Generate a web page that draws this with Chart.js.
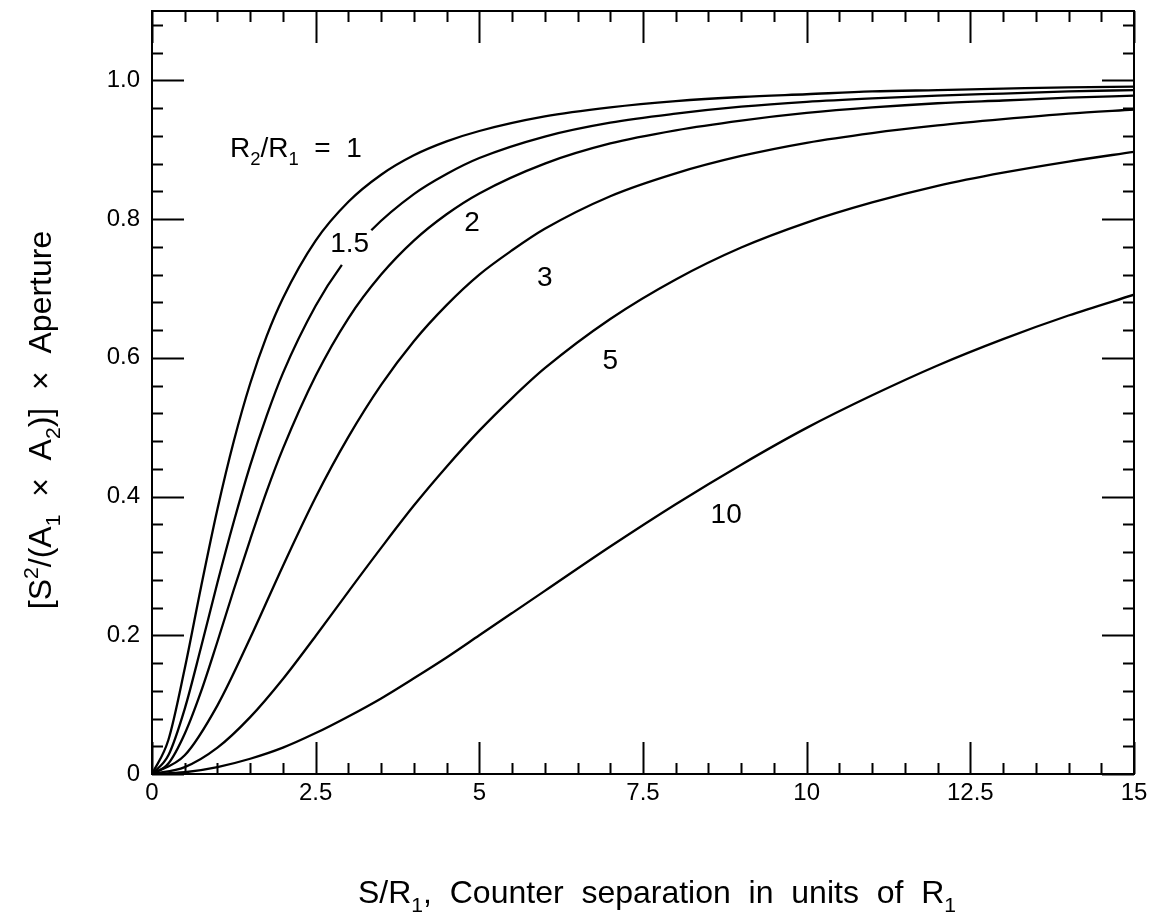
<!DOCTYPE html>
<html><head><meta charset="utf-8">
<script src="https://cdn.jsdelivr.net/npm/chart.js@4.4.0/dist/chart.umd.min.js"></script>
<style>html,body{margin:0;padding:0;background:#fff}#wrap{width:1151px;height:917px;position:relative}</style>
</head><body><div id="wrap"><canvas id="c" width="1151" height="917"></canvas></div>
<script>
// ---- values ----
const ratioLabels = ["1", "1.5", "2", "3", "5", "10"];
const sepFine  = [0,0.25,0.5,0.75,1,1.25,1.5,1.75,2,2.5,3,3.5,4,4.5,5,6,7,8,9,10,11,12,13,14,15];
const val_r1   = [0,0.049,0.152,0.270,0.382,0.480,0.563,0.631,0.686,0.769,0.825,0.864,0.892,0.912,0.927,0.948,0.961,0.970,0.976,0.980,0.984,0.986,0.988,0.990,0.991];
const sep_r15  = [0,0.25,0.5,0.75,1,1.25,1.5,1.75,2,2.5,2.9,3.35,4,4.5,5,6,7,8,9,10,11,12,13,14,15];
const val_r15  = [0,0.027,0.094,0.183,0.276,0.364,0.445,0.516,0.578,0.675,0.734,0.784,0.836,0.865,0.888,0.919,0.939,0.952,0.962,0.969,0.974,0.978,0.981,0.984,0.986];
const val_r2   = [0,0.015,0.058,0.119,0.191,0.266,0.338,0.407,0.469,0.574,0.657,0.720,0.769,0.807,0.837,0.880,0.909,0.928,0.942,0.953,0.961,0.967,0.971,0.975,0.978];
const sepWide  = [0,0.5,1,1.5,2,2.5,3,3.5,4,4.5,5,5.5,6,7,8,9,10,11,12,13,14,15];
const val_r3   = [0,0.027,0.099,0.196,0.300,0.399,0.486,0.561,0.624,0.676,0.720,0.755,0.786,0.833,0.866,0.891,0.910,0.924,0.935,0.944,0.952,0.958];
const val_r5   = [0,0.010,0.038,0.082,0.137,0.199,0.263,0.326,0.387,0.443,0.495,0.542,0.585,0.656,0.713,0.759,0.795,0.824,0.848,0.867,0.883,0.897];
const val_r10  = [0,0.0025,0.010,0.022,0.038,0.059,0.083,0.109,0.138,0.168,0.200,0.232,0.264,0.328,0.389,0.446,0.499,0.546,0.589,0.627,0.661,0.691];
const xTickValues = [0,2.5,5,7.5,10,12.5,15];
const xTickLabels = ["0","2.5","5","7.5","10","12.5","15"];
const yTickValues = [0,0.2,0.4,0.6,0.8,1.0];
const yTickLabels = ["0","0.2","0.4","0.6","0.8","1.0"];
// curve label anchor positions (data coords)
const labelX = [1.19, 3.02, 4.89, 6.0, 7.0, 8.77];
const labelY = [0.889, 0.763, 0.794, 0.715, 0.595, 0.373];
// the 1.5 curve is broken where its label sits
const gapCurve = 1, gapFrom = 2.9, gapTo = 3.35;

const FONT = "'Liberation Sans', Arial, Helvetica, sans-serif";
const pts = (xs, ys) => xs.map((x, i) => ({x, y: ys[i]}));
const series = [[sepFine,val_r1],[sep_r15,val_r15],[sepFine,val_r2],[sepWide,val_r3],[sepWide,val_r5],[sepWide,val_r10]];

function richText(ctx, parts, x, y, size, align) {
  const widths = parts.map(p => {
    ctx.font = (p[1] ? size*0.66 : size) + 'px ' + FONT;
    return ctx.measureText(p[0]).width;
  });
  const total = widths.reduce((a,b)=>a+b,0);
  let cx = align === 'center' ? x - total/2 : x;
  ctx.textBaseline = 'alphabetic';
  ctx.textAlign = 'left';
  parts.forEach((p, i) => {
    ctx.font = (p[1] ? size*0.66 : size) + 'px ' + FONT;
    const dy = p[1] === 1 ? size*0.28 : (p[1] === 2 ? -size*0.42 : 0);
    ctx.fillText(p[0], cx, y + dy);
    cx += widths[i];
  });
  return total;
}

const decor = {
  id: 'decor',
  afterDatasetsDraw(chart) {
    const {ctx, chartArea: a, scales: {x, y}} = chart;
    ctx.save();
    ctx.strokeStyle = '#000';
    ctx.fillStyle = '#000';
    ctx.lineWidth = 2;
    ctx.strokeRect(a.left, a.top, a.right - a.left, a.bottom - a.top);
    ctx.beginPath();
    for (let i = 0; i <= 30; i++) {
      const px = Math.round(x.getPixelForValue(i * 0.5)) + 0.5;
      const len = (i % 5 === 0) ? 32 : 11;
      ctx.moveTo(px, a.bottom); ctx.lineTo(px, a.bottom - len);
      ctx.moveTo(px, a.top); ctx.lineTo(px, a.top + len);
    }
    for (let i = 0; i <= 27; i++) {
      const py = Math.round(y.getPixelForValue(i * 0.04)) + 0.5;
      const len = (i % 5 === 0) ? 32 : 11;
      ctx.moveTo(a.left, py); ctx.lineTo(a.left + len, py);
      ctx.moveTo(a.right, py); ctx.lineTo(a.right - len, py);
    }
    ctx.stroke();
    const lsize = 28;
    ratioLabels.forEach((t, i) => {
      const px = x.getPixelForValue(labelX[i]);
      const py = y.getPixelForValue(labelY[i]);
      if (i === 0) {
        richText(ctx, [['R',0],['2',1],['/R',0],['1',1],['  =  ' + t,0]], px, py, lsize, 'left');
      } else {
        ctx.font = lsize + 'px ' + FONT;
        ctx.textAlign = 'center'; ctx.textBaseline = 'middle';
        ctx.fillText(t, px, py);
      }
    });
    richText(ctx, [['S/R',0],['1',1],[',  Counter  separation  in  units  of  R',0],['1',1]], 358, 903, 32, 'left');
    ctx.save();
    ctx.translate(40, 420);
    ctx.rotate(-Math.PI/2);
    richText(ctx, [['[S',0],['2',2],['/(A',0],['1',1],['  \u00d7  A',0],['2',1],[')]  \u00d7  Aperture',0]], 0, 11, 32, 'center');
    ctx.restore();
    ctx.restore();
  }
};

new Chart(document.getElementById('c'), {
  type: 'line',
  data: {
    datasets: series.map((s, i) => ({
      label: 'R2/R1 = ' + ratioLabels[i],
      data: pts(s[0], s[1]),
      borderColor: '#000', borderWidth: 2.3, pointRadius: 0,
      cubicInterpolationMode: 'monotone', fill: false,
      segment: i === gapCurve ? {
        borderColor: c => (c.p0.parsed.x >= gapFrom - 1e-9 && c.p1.parsed.x <= gapTo + 1e-9) ? 'rgba(0,0,0,0)' : '#000'
      } : undefined
    }))
  },
  options: {
    responsive: false, animation: false, events: [],
    layout: {padding: {left: 0, right: 17, top: 11, bottom: 0}},
    plugins: {legend: {display: false}, tooltip: {enabled: false}},
    scales: {
      x: {
        type: 'linear', min: 0, max: 15,
        grid: {display: false, drawTicks: false}, border: {display: false},
        afterBuildTicks: s => { s.ticks = xTickValues.map(v => ({value: v})); },
        ticks: {
          padding: 5, color: '#000', maxRotation: 0, autoSkip: false,
          font: {family: FONT, size: 24},
          callback: (v) => xTickLabels[xTickValues.indexOf(v)]
        },
        afterFit: s => { s.height = 143; s.paddingLeft = 0; s.paddingRight = 0; }
      },
      y: {
        type: 'linear', min: 0, max: 1.1,
        grid: {display: false, drawTicks: false}, border: {display: false},
        afterBuildTicks: s => { s.ticks = yTickValues.map(v => ({value: v})); },
        ticks: {
          padding: 12, color: '#000', autoSkip: false,
          font: {family: FONT, size: 24},
          callback: (v) => yTickLabels[yTickValues.findIndex(t => Math.abs(t - v) < 1e-9)]
        },
        afterFit: s => { s.width = 152; s.paddingTop = 0; s.paddingBottom = 0; }
      }
    }
  },
  plugins: [decor]
});
</script>
</body></html>
